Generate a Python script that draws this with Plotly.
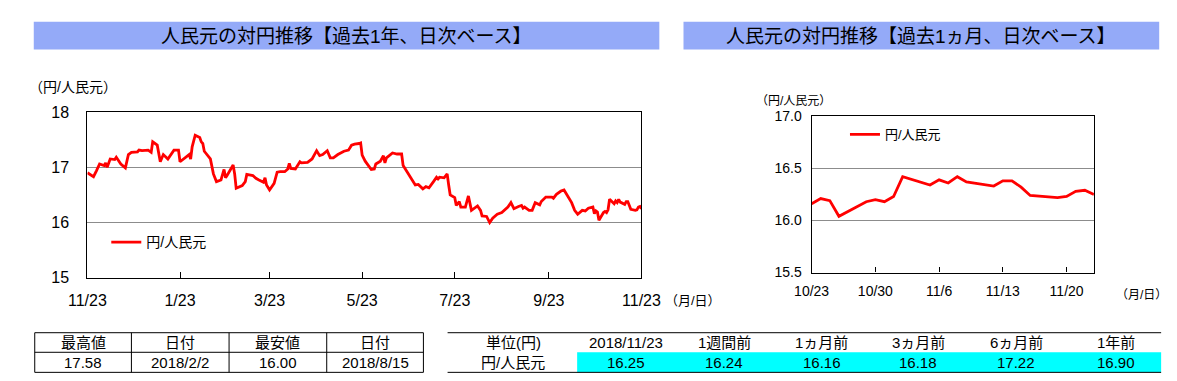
import plotly.graph_objects as go

W, H = 1177, 381

# ---------------- data ----------------
dates_1y = [
    "2017-11-23", "2017-11-27", "2017-11-29", "2017-12-01", "2017-12-04", "2017-12-05", "2017-12-06",
    "2017-12-08", "2017-12-11", "2017-12-12", "2017-12-15", "2017-12-18", "2017-12-20", "2017-12-22",
    "2017-12-26", "2017-12-27", "2017-12-29", "2018-01-02", "2018-01-04", "2018-01-05", "2018-01-08",
    "2018-01-10", "2018-01-12", "2018-01-15", "2018-01-19", "2018-01-22", "2018-01-23", "2018-01-26",
    "2018-01-29", "2018-01-30", "2018-01-31", "2018-02-02", "2018-02-05", "2018-02-06", "2018-02-07",
    "2018-02-08", "2018-02-09", "2018-02-12", "2018-02-14", "2018-02-16", "2018-02-19", "2018-02-20",
    "2018-02-21", "2018-02-22", "2018-02-23", "2018-02-27", "2018-02-28", "2018-03-01", "2018-03-05",
    "2018-03-07", "2018-03-08", "2018-03-12", "2018-03-14", "2018-03-16", "2018-03-19", "2018-03-20",
    "2018-03-21", "2018-03-23", "2018-03-26", "2018-03-28", "2018-03-30", "2018-04-02", "2018-04-04",
    "2018-04-05", "2018-04-06", "2018-04-09", "2018-04-12", "2018-04-13", "2018-04-17", "2018-04-20",
    "2018-04-23", "2018-04-25", "2018-04-27", "2018-04-30", "2018-05-02", "2018-05-04", "2018-05-07",
    "2018-05-11", "2018-05-14", "2018-05-16", "2018-05-18", "2018-05-21", "2018-05-22", "2018-05-23",
    "2018-05-25", "2018-05-29", "2018-05-31", "2018-06-01", "2018-06-04", "2018-06-06", "2018-06-07",
    "2018-06-08", "2018-06-12", "2018-06-15", "2018-06-18", "2018-06-19", "2018-06-21", "2018-06-25",
    "2018-06-27", "2018-06-29", "2018-07-02", "2018-07-04", "2018-07-06", "2018-07-09", "2018-07-11",
    "2018-07-12", "2018-07-13", "2018-07-16", "2018-07-18", "2018-07-19", "2018-07-20", "2018-07-23",
    "2018-07-24", "2018-07-26", "2018-07-27", "2018-07-30", "2018-08-01", "2018-08-03", "2018-08-07",
    "2018-08-09", "2018-08-10", "2018-08-13", "2018-08-15", "2018-08-17", "2018-08-20", "2018-08-23",
    "2018-08-27", "2018-08-29", "2018-08-31", "2018-09-03", "2018-09-05", "2018-09-06", "2018-09-07",
    "2018-09-10", "2018-09-12", "2018-09-14", "2018-09-17", "2018-09-18", "2018-09-21", "2018-09-25",
    "2018-09-26", "2018-09-28", "2018-10-01", "2018-10-03", "2018-10-04", "2018-10-05", "2018-10-08",
    "2018-10-10", "2018-10-12", "2018-10-15", "2018-10-17", "2018-10-19", "2018-10-22",
    "2018-10-23", "2018-10-24", "2018-10-25", "2018-10-26", "2018-10-29", "2018-10-30", "2018-10-31",
    "2018-11-01", "2018-11-02", "2018-11-05", "2018-11-06", "2018-11-07", "2018-11-08", "2018-11-09",
    "2018-11-12", "2018-11-13", "2018-11-14", "2018-11-15", "2018-11-16", "2018-11-19", "2018-11-20",
    "2018-11-21", "2018-11-22", "2018-11-23",
]
rate_1y = [
    16.90, 16.83, 16.94, 17.06, 17.03, 17.08, 17.00,
    17.15, 17.14, 17.18, 17.06, 16.99, 17.23, 17.27,
    17.28, 17.31, 17.30, 17.31, 17.27, 17.46, 17.40,
    17.10, 17.23, 17.15, 17.31, 17.31, 17.10, 17.17,
    17.23, 17.15, 17.37, 17.58, 17.54, 17.46, 17.43,
    17.29, 17.25, 17.15, 16.88, 16.74, 16.77, 16.85,
    16.96, 16.81, 16.85, 17.04, 16.88, 16.62, 16.67,
    16.74, 16.87, 16.85, 16.80, 16.77, 16.73, 16.81,
    16.68, 16.59, 16.71, 16.91, 16.92, 16.92, 16.97,
    17.07, 16.98, 16.97, 17.10, 17.08, 17.09, 17.15,
    17.30, 17.21, 17.23, 17.30, 17.17, 17.17, 17.23,
    17.29, 17.31, 17.40, 17.42, 17.43, 17.44, 17.22,
    17.11, 16.96, 16.97, 17.06, 17.11, 17.21, 17.08,
    17.17, 17.26, 17.24, 17.24, 17.03, 16.94, 16.77,
    16.68, 16.69, 16.61, 16.65, 16.63, 16.74, 16.82,
    16.79, 16.82, 16.81, 16.88, 16.68, 16.50, 16.45,
    16.31, 16.38, 16.28, 16.28, 16.48, 16.22, 16.30,
    16.22, 16.12, 16.11, 16.00, 16.08, 16.15, 16.18,
    16.28, 16.36, 16.25, 16.29, 16.31, 16.26, 16.28,
    16.22, 16.22, 16.36, 16.32, 16.38, 16.46, 16.46,
    16.44, 16.51, 16.57, 16.59, 16.54, 16.50, 16.36,
    16.22, 16.15, 16.22, 16.21, 16.26, 16.28,
    16.16, 16.21, 16.19, 16.04, 16.18, 16.20, 16.18,
    16.23, 16.42, 16.34, 16.39, 16.36, 16.42, 16.37,
    16.33, 16.38, 16.38, 16.32, 16.24, 16.22, 16.23,
    16.28, 16.29, 16.25,
]

dates_1m = [
    "2018-10-23", "2018-10-24", "2018-10-25", "2018-10-26", "2018-10-29", "2018-10-30", "2018-10-31",
    "2018-11-01", "2018-11-02", "2018-11-05", "2018-11-06", "2018-11-07", "2018-11-08", "2018-11-09",
    "2018-11-12", "2018-11-13", "2018-11-14", "2018-11-15", "2018-11-16", "2018-11-19", "2018-11-20",
    "2018-11-21", "2018-11-22", "2018-11-23",
]
rate_1m = [
    16.16, 16.21, 16.19, 16.04, 16.18, 16.20, 16.18,
    16.23, 16.42, 16.34, 16.39, 16.36, 16.42, 16.37,
    16.33, 16.38, 16.38, 16.32, 16.24, 16.22, 16.23,
    16.28, 16.29, 16.25,
]

ticks_1y = ["2017-11-23", "2018-01-23", "2018-03-23", "2018-05-23", "2018-07-23", "2018-09-23", "2018-11-23"]
ticklabels_1y = ["11/23", "1/23", "3/23", "5/23", "7/23", "9/23", "11/23"]
ticks_1m = ["2018-10-23", "2018-10-30", "2018-11-06", "2018-11-13", "2018-11-20"]
ticklabels_1m = ["10/23", "10/30", "11/6", "11/13", "11/20"]

series_name = "円/人民元"
title_1y = "人民元の対円推移【過去1年、日次ベース】"
title_1m = "人民元の対円推移【過去1ヵ月、日次ベース】"

hl_headers = ["最高値", "日付", "最安値", "日付"]
hl_values = ["17.58", "2018/2/2", "16.00", "2018/8/15"]

cmp_headers = ["単位(円)", "2018/11/23", "1週間前", "1ヵ月前", "3ヵ月前", "6ヵ月前", "1年前"]
cmp_values = [16.25, 16.24, 16.16, 16.18, 17.22, 16.90]

# ---------------- layout helpers ----------------
def px(x):
    return x / W

def py(y):
    return 1 - y / H

FONT = "Liberation Sans, Noto Sans CJK JP, sans-serif"
RED = "#ff0000"
BAR = "#94aaf8"

fig = go.Figure()
fig.add_trace(go.Scatter(x=dates_1y, y=rate_1y, mode="lines", name=series_name, showlegend=True,
                         line=dict(color=RED, width=2.8), xaxis="x", yaxis="y", legend="legend"))
fig.add_trace(go.Scatter(x=dates_1m, y=rate_1m, mode="lines", name=series_name, showlegend=True,
                         line=dict(color=RED, width=2.8), xaxis="x2", yaxis="y2", legend="legend2"))

def tf(size):
    return dict(family=FONT, size=size, color="black")

axis_common = dict(showline=True, linecolor="black", linewidth=1.2, mirror=True, zeroline=False)

# plot areas (pixels)
L = dict(x0=62.5, x1=635.5, y0=100.5, y1=274)
R = dict(x0=811.5, x1=1103.5, y0=105, y1=268.5)

fig.update_layout(
    width=W, height=H, margin=dict(l=0, r=0, t=0, b=0),
    paper_bgcolor="white", plot_bgcolor="white",
    font=dict(family=FONT, color="black"),
    showlegend=True,
    xaxis=dict(domain=[px(L["x0"]), px(L["x1"])], anchor="y", type="date",
               range=["2017-11-23", "2018-11-23"], tickvals=ticks_1y, ticktext=ticklabels_1y,
               ticks="inside", ticklen=6, tickcolor="black", showgrid=False,
               ticklabelstandoff=8, tickfont=tf(16), **axis_common),
    yaxis=dict(domain=[py(L["y1"]), py(L["y0"])], anchor="x", range=[15, 18],
               tickvals=[15, 16, 17, 18], ticks="", showgrid=True, gridcolor="#8c8c8c", gridwidth=1.2,
               ticklabelstandoff=14, tickfont=tf(16), **axis_common),
    xaxis2=dict(domain=[px(R["x0"]), px(R["x1"])], anchor="y2", type="date",
                range=["2018-10-23", "2018-11-23"], tickvals=ticks_1m, ticktext=ticklabels_1m,
                ticks="inside", ticklen=5, tickcolor="black", showgrid=False,
                ticklabelstandoff=6, tickfont=tf(14), **axis_common),
    yaxis2=dict(domain=[py(R["y1"]), py(R["y0"])], anchor="x2", range=[15.5, 17.0],
                tickvals=[15.5, 16.0, 16.5, 17.0], ticktext=["15.5", "16.0", "16.5", "17.0"],
                ticks="", showgrid=True, gridcolor="#8c8c8c", gridwidth=1.2, ticklabelstandoff=6,
                tickfont=tf(14), **axis_common),
    legend=dict(x=px(82), y=py(237), xanchor="left", yanchor="middle", bgcolor="rgba(0,0,0,0)",
                font=tf(14), itemwidth=30, tracegroupgap=0, visible=True),
    legend2=dict(x=px(846), y=py(124), xanchor="left", yanchor="middle", bgcolor="rgba(0,0,0,0)",
                 font=tf(13), itemwidth=30, tracegroupgap=0, visible=True),
)

shapes = []
ann = []

# title bars
for (x0, x1, txt) in [(7, 654, title_1y), (679, 1171, title_1m)]:
    shapes.append(dict(type="rect", xref="paper", yref="paper", x0=px(x0), x1=px(x1), y0=py(35), y1=py(6),
                       fillcolor=BAR, line=dict(width=0), layer="below"))
    ann.append(dict(text=txt, xref="paper", yref="paper", x=px((x0 + x1) / 2), y=py(21), showarrow=False,
                    xanchor="center", yanchor="middle", font=tf(19)))

# axis unit labels
ann.append(dict(text="（円/人民元）", xref="paper", yref="paper", x=px(0), y=py(74), showarrow=False,
                xanchor="left", yanchor="middle", font=tf(14)))
ann.append(dict(text="（円/人民元）", xref="paper", yref="paper", x=px(752), y=py(89), showarrow=False,
                xanchor="left", yanchor="middle", font=tf(12)))
ann.append(dict(text="（月/日）", xref="paper", yref="paper", x=px(658), y=py(298), showarrow=False,
                xanchor="left", yanchor="middle", font=tf(13)))
ann.append(dict(text="（月/日）", xref="paper", yref="paper", x=px(1124), y=py(292), showarrow=False,
                xanchor="left", yanchor="middle", font=tf(12)))

# left table (high / low)
tl_cols = [8, 108, 209, 310, 410]
t_top, t_mid, t_bot = 331.5, 352, 373
for yy in (t_top, t_mid, t_bot):
    shapes.append(dict(type="line", xref="paper", yref="paper", x0=px(tl_cols[0]), x1=px(tl_cols[-1]),
                       y0=py(yy), y1=py(yy), line=dict(color="black", width=1)))
for xx in tl_cols:
    shapes.append(dict(type="line", xref="paper", yref="paper", x0=px(xx), x1=px(xx),
                       y0=py(t_top), y1=py(t_bot), line=dict(color="black", width=1)))
for i in range(4):
    cx = (tl_cols[i] + tl_cols[i + 1]) / 2
    ann.append(dict(text=hl_headers[i], xref="paper", yref="paper", x=px(cx), y=py(342), showarrow=False,
                    xanchor="center", yanchor="middle", font=tf(15)))
    ann.append(dict(text=hl_values[i], xref="paper", yref="paper", x=px(cx), y=py(362.5), showarrow=False,
                    xanchor="center", yanchor="middle", font=tf(15)))

# right table (comparison)
tr_x0, tr_x1 = 435, 1173
shapes.append(dict(type="rect", xref="paper", yref="paper", x0=px(569), x1=px(tr_x1), y0=py(t_bot), y1=py(t_mid),
                   fillcolor="#00ffff", line=dict(width=0), layer="below"))
for yy in (t_top, t_bot):
    shapes.append(dict(type="line", xref="paper", yref="paper", x0=px(tr_x0), x1=px(tr_x1),
                       y0=py(yy), y1=py(yy), line=dict(color="black", width=1)))
cmp_centers = [503, 620, 721, 822, 922, 1023, 1126]
for i, h in enumerate(cmp_headers):
    ann.append(dict(text=h, xref="paper", yref="paper", x=px(cmp_centers[i]), y=py(342), showarrow=False,
                    xanchor="center", yanchor="middle", font=tf(15)))
ann.append(dict(text=series_name, xref="paper", yref="paper", x=px(cmp_centers[0]), y=py(362.5), showarrow=False,
                xanchor="center", yanchor="middle", font=tf(15)))
for i, v in enumerate(cmp_values):
    ann.append(dict(text=f"{v:.2f}", xref="paper", yref="paper", x=px(cmp_centers[i + 1]), y=py(362.5),
                    showarrow=False, xanchor="center", yanchor="middle", font=tf(15)))

fig.update_layout(shapes=shapes, annotations=ann)
fig.write_html("out.html")
